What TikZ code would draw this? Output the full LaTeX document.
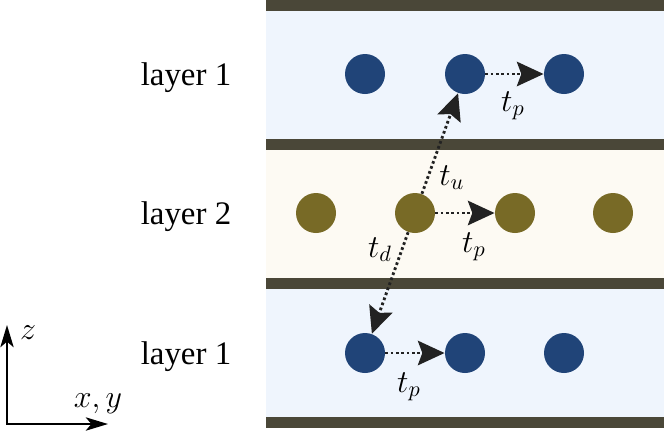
\documentclass[tikz,border=0pt]{standalone}
\usepackage{fontspec}
\setmainfont{Liberation Serif}
\usetikzlibrary{arrows.meta}
\definecolor{barcol}{HTML}{4A4738}
\definecolor{bluefill}{HTML}{EFF5FD}
\definecolor{creamfill}{HTML}{FDFAF3}
\definecolor{bluedotcol}{HTML}{204478}
\definecolor{olivedotcol}{HTML}{786A26}
\definecolor{hopcol}{HTML}{222222}
\tikzset{
  bluedot/.style={circle,fill=bluedotcol,minimum size=18pt,inner sep=0pt},
  olivedot/.style={circle,fill=olivedotcol,minimum size=18pt,inner sep=0pt},
  hop/.style={hopcol,line width=1.3pt,dash pattern=on 1.2pt off 1.2pt,
    -{Stealth[length=12pt,width=11pt,inset=2pt]}},
  axis/.style={line width=0.9pt,{Stealth[length=10pt,width=6pt,inset=2.5pt]}-{Stealth[length=10pt,width=6pt,inset=2.5pt]}},
  lbl/.style={anchor=base,inner sep=0pt}
}
\begin{document}
\begin{tikzpicture}[x=0.45pt,y=-0.45pt,font=\fontsize{14.8}{18}\selectfont]
\useasboundingbox (0,0) rectangle (664,435);
% layers
\fill[bluefill] (266,11) rectangle (664,139);
\fill[creamfill] (266,150) rectangle (664,278);
\fill[bluefill] (266,289) rectangle (664,417);
\foreach \y in {0,139,278,417}
  \fill[barcol] (266,\y) rectangle (664,\y+11);

% labels
\node[lbl] (lab1) at (186,85) {layer 1};
\node[lbl] (lab2) at (186,224) {layer 2};
\node[lbl] (lab3) at (186,364) {layer 1};

% sites
\node[bluedot] (a1) at (365,74) {};
\node[bluedot] (a2) at (465,74) {};
\node[bluedot] (a3) at (564,74) {};
\node[olivedot] (b1) at (316,213) {};
\node[olivedot] (b2) at (415,213) {};
\node[olivedot] (b3) at (515,213) {};
\node[olivedot] (b4) at (613,213) {};
\node[bluedot] (c1) at (365,353) {};
\node[bluedot] (c2) at (465,353) {};
\node[bluedot] (c3) at (564,353) {};

% hoppings
\draw[hop] (a2) -- (a3);
\draw[hop] (b2) -- (b3);
\draw[hop] (c1) -- (c2);
\draw[hop] (b2) -- (a2);
\draw[hop] (b2) -- (c1);
\node[lbl] (tp1) at (513,111) {$t_p$};
\node[lbl] (tp2) at (474,252) {$t_p$};
\node[lbl] (tp3) at (409,392) {$t_p$};
\node[lbl] (tu) at (452,185) {$t_u$};
\node[lbl] (td) at (380,257) {$t_d$};

% axes
\coordinate (o) at (7,424);
\coordinate (zend) at (7,325);
\coordinate (xend) at (108,424);
\draw[axis] (zend) -- (o) -- (xend);
\node (zl) at (28,333) {$z$};
\node (xl) at (98,404) {$x,y$};
\end{tikzpicture}
\end{document}
